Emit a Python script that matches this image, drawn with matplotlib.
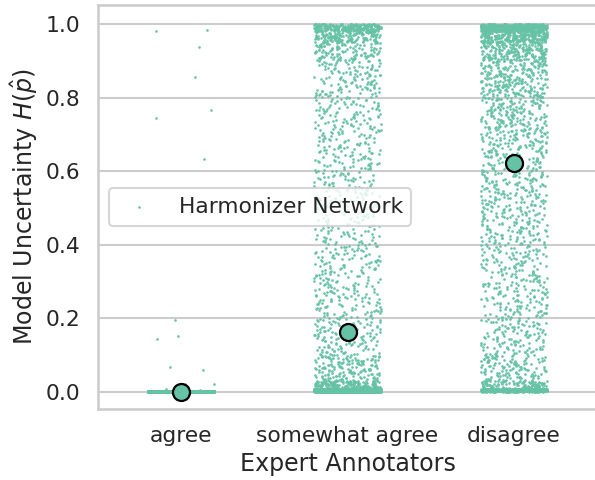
import numpy as np
import pandas as pd
import matplotlib
matplotlib.use("Agg")
import matplotlib.pyplot as plt
import seaborn as sns

categories = ["agree", "somewhat agree", "disagree"]

# histogram of uncertainty values per category
bin_edges = [0.0, 0.008, 0.03, 0.1, 0.2, 0.3, 0.4, 0.5, 0.6, 0.7, 0.8, 0.9, 0.95, 0.98, 1.0]
somewhat_counts = [3500, 170, 160, 125, 110, 100, 88, 92, 98, 105, 125, 120, 150, 260]
disagree_counts = [500, 110, 125, 125, 115, 115, 130, 140, 160, 190, 250, 210, 250, 480]

# agree: almost everything sits at 0, plus a few stray points
agree_zero_count = 3000
agree_outliers = [0.982, 0.985, 0.938, 0.855, 0.767, 0.745, 0.634, 0.196, 0.152,
                  0.143, 0.066, 0.059, 0.021, 0.022, 0.007, 0.007, 0.005]

mean_values = [0.0, 0.163, 0.622]

color = "#66c2a5"


def expand_bins(edges, counts):
    vals = []
    for i in range(len(counts)):
        lo, hi = edges[i], edges[i + 1]
        vals.extend(np.linspace(lo, hi, counts[i], endpoint=False) + (hi - lo) / (2 * counts[i]))
    return vals


agree_vals = list(np.linspace(0, 0.003, agree_zero_count)) + agree_outliers
somewhat_vals = expand_bins(bin_edges, somewhat_counts)
disagree_vals = expand_bins(bin_edges, disagree_counts)

df = pd.DataFrame({
    "cat": ["agree"] * len(agree_vals) + ["somewhat agree"] * len(somewhat_vals) + ["disagree"] * len(disagree_vals),
    "val": agree_vals + somewhat_vals + disagree_vals,
})

sns.set_theme(style="whitegrid", context="talk", font_scale=0.95)
np.random.seed(3)  # only for seaborn's horizontal jitter

fig = plt.figure(figsize=(5.95, 4.8), dpi=100)
ax = fig.add_axes([0.1647, 0.148, 0.8387, 0.8417])

sns.stripplot(data=df, x="cat", y="val", order=categories, color=color, size=1.9,
              jitter=0.2, linewidth=0, label="Harmonizer Network", ax=ax)
ax.scatter(range(len(categories)), mean_values, s=150, color=color, edgecolors="black",
           linewidths=1.6, zorder=5)

ax.set_ylim(-0.047, 1.052)
ax.set_xlim(-0.5, 2.5)
ax.set_xlabel("Expert Annotators")
ax.set_ylabel(r"Model Uncertainty $H(\hat{p})$")

handles, labels = ax.get_legend_handles_labels()
ax.legend(handles[:1], labels[:1], loc="center left")

fig.savefig("out.png", dpi=100)
